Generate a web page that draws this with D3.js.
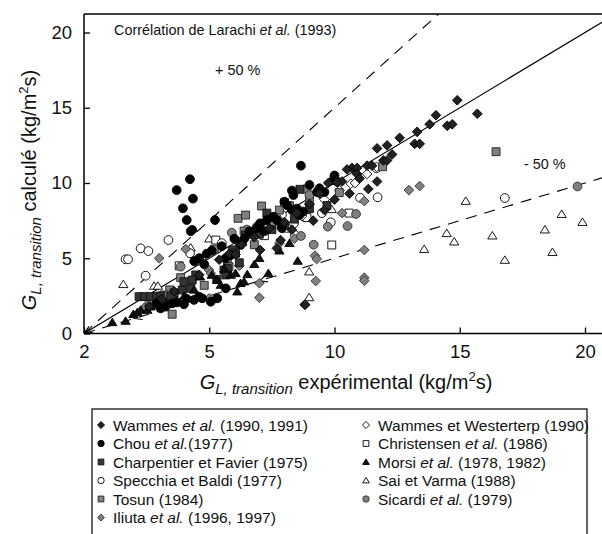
<!DOCTYPE html>
<html><head><meta charset="utf-8">
<script src="https://cdn.jsdelivr.net/npm/d3@7"></script>
<style>
body{margin:0;background:#fff;}
svg{display:block;font-family:"Liberation Sans",Arial,sans-serif;}
</style></head>
<body><svg id="c" width="602" height="534"></svg>
<script>
// ---- data (x = experimental, y = calculated), kg/m2s ----
const wammes = [[14.9,15.5],[14.05,14.5],[13.8,13.9],[15.7,14.6],[14.5,13.8],[14.7,13.9],[13.3,13.4],[13.2,12.6],[13.4,12.6],[12.6,13.0],[12.1,12.5],[11.7,12.3],[11.7,10.1],[11.35,9.6],[10.6,9.3],[11.3,11.15],[11.5,11.15],[11.95,11.5],[12.1,11.5],[10.7,11.0],[10.9,11.0],[10.9,10.6],[10.3,10.1],[10.1,10.05],[10.5,10.9],[9.75,10.0],[9.15,7.5],[7.7,5.66],[7.85,6.2],[7.03,5.55],[8.82,1.9],[9.4,9.3],[9.0,8.6],[8.5,8.0],[8.0,7.4],[7.4,7.0],[6.8,6.4],[6.3,5.9],[5.8,5.3],[5.4,4.9],[6.05,5.26],[4.6,3.9],[3.6,2.8],[3.1,2.3],[2.6,1.8],[8.3,6.9],[9.6,8.2],[10.0,8.9],[12.3,11.9],[11.0,10.3]];
const chou = [[4.23,10.25],[3.7,9.53],[4.35,8.96],[3.95,8.32],[4.1,7.54],[5.23,7.54],[4.32,6.88],[8.66,11.15],[10.0,10.5],[9.95,10.2],[10.1,10.1],[9.0,9.87],[9.3,9.4],[9.4,9.65],[9.6,9.4],[8.3,9.5],[8.36,9.2],[8.0,8.76],[8.1,8.54],[8.3,8.2],[8.5,8.3],[8.6,7.87],[8.75,8.1],[7.56,7.76],[7.7,7.54],[7.03,7.32],[7.3,7.54],[4.26,6.8],[4.4,4.8],[4.6,5.0],[4.8,4.6],[5.65,5.0],[5.85,5.2],[6.25,5.9],[6.4,6.3],[6.6,6.8],[6.9,7.0],[7.2,6.8],[6.0,6.3],[5.5,5.8],[5.1,5.5],[4.9,5.3],[7.9,7.2],[3.06,1.67],[3.26,1.78],[3.52,2.0],[3.72,2.07],[3.99,1.94],[4.39,2.23],[4.59,2.45],[4.72,2.34],[5.06,2.11],[5.32,2.34],[5.66,3.0],[2.9,2.0],[4.1,2.3],[7.9,7.0]];
const charpentier = [[2.2,2.45],[2.42,2.45],[2.66,2.45],[2.9,2.45],[3.06,2.5],[3.92,2.89],[4.26,3.0],[4.46,3.89],[4.32,3.55],[3.99,3.44],[5.59,4.22],[5.66,3.89],[5.72,4.33],[5.92,5.55],[6.05,5.33],[6.32,6.1],[6.45,6.55],[6.65,6.76],[3.6,2.7],[3.46,2.45],[7.0,6.6],[7.5,6.9],[8.0,7.2],[8.4,7.6],[8.62,9.58],[7.3,8.0],[9.0,8.3],[9.7,8.5],[6.2,4.7],[5.3,3.6]];
const specchia = [[2.26,5.66],[2.57,5.48],[1.66,4.93],[1.76,4.93],[3.37,6.21],[2.46,3.84],[4.23,5.33],[11.02,9.02],[11.72,9.05],[9.85,7.39],[16.8,9.0],[8.38,7.32],[8.42,6.55],[9.5,8.0],[11.68,10.98],[7.9,7.9],[6.5,6.9],[5.5,6.0]];
const tosun = [[6.15,7.65],[6.45,7.87],[7.09,8.47],[10.19,9.36],[11.92,11.08],[16.45,12.08],[3.42,2.9],[3.19,2.56],[3.52,1.28],[5.72,4.88],[5.79,4.44],[4.46,4.82],[3.86,3.71],[6.39,6.81],[7.5,7.2],[8.2,8.5],[9.0,9.0],[5.2,5.6],[6.8,5.9],[4.8,3.2],[2.6,2.0],[7.8,8.2],[8.9,9.6],[3.1,1.9]];
const iliuta = [[12.97,9.53],[13.4,9.8],[11.19,8.8],[9.22,5.17],[9.29,4.95],[9.25,3.49],[11.19,5.55],[11.19,3.71],[11.19,3.51],[8.82,1.94],[7.0,3.34],[7.0,2.38],[3.0,5.0],[4.06,5.61],[4.99,4.22],[5.06,4.0],[5.0,2.34],[6.2,4.5],[7.8,6.0],[3.5,2.2],[2.4,1.7],[10.3,8.0],[8.4,6.3]];
const westerterp = [[10.65,9.95],[10.82,10.0],[11.68,11.08],[9.6,8.9],[10.2,9.5],[11.3,10.6],[9.0,8.6],[8.7,7.8]];
const christensen = [[10.58,8.0],[9.89,5.88],[5.26,6.21],[7.2,6.5],[8.1,7.0],[6.2,5.9],[4.7,5.0],[8.9,7.7],[7.6,7.5],[3.8,4.5],[8.0,8.7]];
const morsi = [[1.13,0.74],[1.66,0.83],[1.97,1.28],[2.13,1.41],[2.26,1.56],[2.53,1.56],[2.66,1.78],[5.32,3.55],[5.46,3.22],[5.86,3.89],[6.05,4.0],[6.12,2.78],[6.25,3.34],[6.39,3.44],[6.52,3.93],[7.0,5.0],[8.53,4.82],[7.36,4.0],[4.63,3.77],[5.1,3.89],[3.0,1.9],[3.3,2.0],[4.0,2.5],[4.4,2.9],[7.8,5.5],[8.2,6.0],[6.8,4.6],[5.6,4.3],[3.7,2.2]];
const saiVarma = [[15.24,8.8],[14.48,6.66],[14.78,6.1],[13.58,5.6],[16.3,6.5],[16.8,4.88],[8.99,4.11],[8.99,2.4],[9.89,8.25],[1.57,3.27],[2.8,3.16],[2.95,3.16],[4.26,5.7],[5.0,6.3],[19.07,7.93],[18.4,6.9],[19.9,7.4],[18.7,5.4]];
const sicardi = [[19.7,9.77],[10.86,7.94],[9.73,7.1],[10.52,7.14],[9.17,5.9],[8.66,6.48],[3.86,4.44],[9.0,9.2],[7.7,7.7],[5.9,6.7],[6.9,7.1]];

const xTickValues = [0,5,10,15,20];
const xTickLabels = ["2","5","10","15","20"];
const yTickValues = [0,5,10,15,20];

const seriesDefs = [
  {data:saiVarma, shape:"triangle", fill:"#fff", stroke:"#000"},
  {data:christensen, shape:"square", fill:"#fff", stroke:"#000"},
  {data:specchia, shape:"circle", fill:"#fff", stroke:"#000"},
  {data:westerterp, shape:"diamond", fill:"#fff", stroke:"#000"},
  {data:tosun, shape:"square", fill:"#808080", stroke:"#222"},
  {data:iliuta, shape:"diamond", fill:"#808080", stroke:"#333"},
  {data:sicardi, shape:"circle", fill:"#808080", stroke:"#333"},
  {data:charpentier, shape:"square", fill:"#333", stroke:"#111"},
  {data:morsi, shape:"triangle", fill:"#111", stroke:"#000"},
  {data:chou, shape:"circle", fill:"#000", stroke:"#000"},
  {data:wammes, shape:"diamond", fill:"#222", stroke:"#000"}
];

const legendItems = [
  {label:[["Wammes ",0],["et al.",1],[" (1990, 1991)",0]], shape:"diamond", fill:"#222", stroke:"#000"},
  {label:[["Chou ",0],["et al.",1],["(1977)",0]], shape:"circle", fill:"#000", stroke:"#000"},
  {label:[["Charpentier et Favier (1975)",0]], shape:"square", fill:"#333", stroke:"#111"},
  {label:[["Specchia et Baldi (1977)",0]], shape:"circle", fill:"#fff", stroke:"#000"},
  {label:[["Tosun (1984)",0]], shape:"square", fill:"#808080", stroke:"#222"},
  {label:[["Iliuta ",0],["et al.",1],[" (1996, 1997)",0]], shape:"diamond", fill:"#808080", stroke:"#333"},
  {label:[["Wammes et Westerterp (1990)",0]], shape:"diamond", fill:"#fff", stroke:"#000"},
  {label:[["Christensen ",0],["et al.",1],[" (1986)",0]], shape:"square", fill:"#fff", stroke:"#000"},
  {label:[["Morsi ",0],["et al.",1],[" (1978, 1982)",0]], shape:"triangle", fill:"#111", stroke:"#000"},
  {label:[["Sai et Varma (1988)",0]], shape:"triangle", fill:"#fff", stroke:"#000"},
  {label:[["Sicardi ",0],["et al.",1],[" (1979)",0]], shape:"circle", fill:"#808080", stroke:"#333"}
];

// ---- layout ----
const svg = d3.select("#c");
const pL=84, pR=602, pT=14, pB=333.5;
const x = d3.scaleLinear().domain([0,20]).range([pL,585]);
const y = d3.scaleLinear().domain([0,20]).range([pB,32.5]);
const xMax = x.invert(pR), yMax = y.invert(pT);

function shapePath(shape, r){
  if(shape==="circle"){const p=d3.path(); p.arc(0,0,r,0,2*Math.PI); p.closePath(); return p.toString();}
  if(shape==="square") return `M${-r*0.9},${-r*0.9}H${r*0.9}V${r*0.9}H${-r*0.9}Z`;
  if(shape==="diamond") return `M0,${-r*1.1}L${r*1.1},0L0,${r*1.1}L${-r*1.1},0Z`;
  if(shape==="triangle") return `M0,${-r*0.95}L${r*1.05},${r*0.75}L${-r*1.05},${r*0.75}Z`;
}

svg.append("defs").append("clipPath").attr("id","plotclip")
  .append("rect").attr("x",pL).attr("y",pT).attr("width",pR-pL).attr("height",pB-pT);

const plot = svg.append("g").attr("clip-path","url(#plotclip)");

// reference lines
const lineGen = d3.line().x(d=>x(d[0])).y(d=>y(d[1]));
plot.append("path").attr("d",lineGen([[0,0],[xMax,xMax]])).attr("stroke","#000").attr("stroke-width",1.1).attr("fill","none");
plot.append("path").attr("d",lineGen([[0,0],[yMax/1.5,yMax]])).attr("stroke","#000").attr("stroke-width",1.1).attr("fill","none").attr("stroke-dasharray","11,8");
plot.append("path").attr("d",lineGen([[0,0],[xMax,xMax*0.5]])).attr("stroke","#000").attr("stroke-width",1.1).attr("fill","none").attr("stroke-dasharray","11,8");

// small arrowheads
function arrowHead(px,py,slope){
  const ang = Math.atan2(-(y(slope)-y(0)), x(1)-x(0));
  const g = plot.append("g").attr("transform",`translate(${x(px)},${y(py)}) rotate(${-ang*180/Math.PI})`);
  g.append("path").attr("d","M8,-3.5L0,0L8,3.5").attr("stroke","#000").attr("stroke-width",1.1).attr("fill","none");
}
arrowHead(0,0,1);
arrowHead(2,1,0.5);
arrowHead(7,3.5,0.5);

// points
seriesDefs.forEach(s=>{
  plot.append("g").selectAll("path").data(s.data).join("path")
    .attr("transform",d=>`translate(${x(d[0])},${y(d[1])})`)
    .attr("d",shapePath(s.shape,4.4))
    .attr("fill",s.fill).attr("stroke",s.stroke).attr("stroke-width",0.9);
});

// axes
const FONT = "Liberation Sans, Arial, sans-serif";
const xAxis = d3.axisBottom(x).tickValues(xTickValues).tickFormat((d,i)=>xTickLabels[i]).tickSizeInner(-6).tickSizeOuter(0).tickPadding(11);
const gx = svg.append("g").attr("transform",`translate(0,${pB})`).call(xAxis);
gx.select(".domain").attr("d",`M${pL},0H${pR}`).attr("stroke-width",1.5);
gx.selectAll(".tick line").attr("stroke-width",1.3);
gx.selectAll(".tick text").attr("font-size",18.5).attr("fill","#111").attr("font-family",FONT);

const yAxis = d3.axisLeft(y).tickValues(yTickValues).tickSizeInner(-6).tickSizeOuter(0).tickPadding(12);
const gy = svg.append("g").attr("transform",`translate(${pL},0)`).call(yAxis);
gy.select(".domain").attr("d",`M0,${pB}V${pT}`).attr("stroke-width",1.5);
gy.selectAll(".tick line").attr("stroke-width",1.3);
gy.selectAll(".tick text").attr("font-size",18.5).attr("fill","#111").attr("font-family",FONT);

// top frame line
svg.append("line").attr("x1",pL).attr("x2",pR).attr("y1",pT).attr("y2",pT).attr("stroke","#000").attr("stroke-width",1.5);

// annotations
const ann = svg.append("text").attr("x",114).attr("y",35).attr("font-size",14.4).attr("fill","#111");
ann.append("tspan").text("Corrélation de Larachi ");
ann.append("tspan").attr("font-style","italic").text("et al.");
ann.append("tspan").text(" (1993)");
svg.append("text").attr("x",215).attr("y",75).attr("font-size",14.4).attr("fill","#111").text("+ 50 %");
svg.append("text").attr("x",524).attr("y",169).attr("font-size",14.4).attr("fill","#111").text("- 50 %");

// axis titles
function titleParts(t){
  t.append("tspan").attr("font-style","italic").text("G");
  t.append("tspan").attr("font-style","italic").attr("font-size",15).attr("dy",5).text("L, transition");
  return t;
}
const xt = svg.append("text").attr("x",346).attr("y",389).attr("font-size",20).attr("text-anchor","middle").attr("fill","#111");
titleParts(xt);
xt.append("tspan").attr("dy",-5).text(" expérimental (kg/m");
xt.append("tspan").attr("font-size",13).attr("dy",-8).text("2");
xt.append("tspan").attr("dy",8).text("s)");

const yt = svg.append("text").attr("transform","translate(36,190) rotate(-90)").attr("font-size",20).attr("text-anchor","middle").attr("fill","#111");
titleParts(yt);
yt.append("tspan").attr("dy",-5).text(" calculé (kg/m");
yt.append("tspan").attr("font-size",13).attr("dy",-8).text("2");
yt.append("tspan").attr("dy",8).text("s)");

// legend
svg.append("rect").attr("x",92).attr("y",409).attr("width",495).attr("height",140).attr("fill","none").attr("stroke","#000").attr("stroke-width",1.2);
const rowH = 18.5, row0 = 425;
legendItems.forEach((it,i)=>{
  const col = i<6?0:1, row = i<6?i:i-6;
  const mx = col===0?101:366, tx = col===0?113:378, yy = row0+row*rowH;
  svg.append("path").attr("transform",`translate(${mx},${yy})`).attr("d",shapePath(it.shape,3.2))
    .attr("fill",it.fill).attr("stroke",it.stroke).attr("stroke-width",0.9);
  const t = svg.append("text").attr("x",tx).attr("y",yy+5.5).attr("font-size",15.5).attr("fill","#111");
  it.label.forEach(p=>t.append("tspan").attr("font-style",p[1]?"italic":null).text(p[0]));
});
</script></body></html>
